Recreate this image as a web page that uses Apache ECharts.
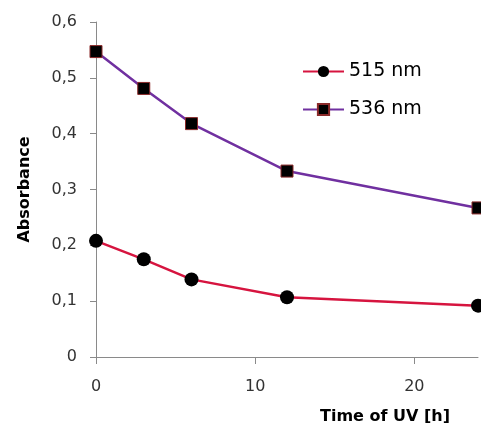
<!DOCTYPE html>
<html>
<head>
<meta charset="utf-8">
<script src="https://cdn.jsdelivr.net/npm/echarts@6/dist/echarts.min.js"></script>
<style>html,body{margin:0;padding:0;background:#fff}#c{width:481px;height:426px}</style>
</head>
<body>
<div id="c"></div>
<script>
const timeHours = [0, 3, 6, 12, 24];
const abs515 = [0.208, 0.175, 0.139, 0.107, 0.092];
const abs536 = [0.547, 0.481, 0.418, 0.333, 0.267];
const seriesNames = ['515 nm', '536 nm'];
const xTickValues = [0, 10, 20];
const yAxisTitle = 'Absorbance';
const xAxisTitle = 'Time of UV [h]';

const FONT = 'DejaVu Sans';
const chart = echarts.init(document.getElementById('c'), null, {renderer: 'canvas'});
chart.setOption({
  backgroundColor: '#ffffff',
  animation: false,
  textStyle: {fontFamily: FONT},
  title: {
    text: xAxisTitle, right: 31, top: 409, padding: 0,
    textStyle: {fontFamily: FONT, fontSize: 16, fontWeight: 'bold', color: '#000'}
  },
  grid: {left: 96, right: 3, top: 22, bottom: 69, containLabel: false, outerBoundsMode: 'none'},
  legend: {
    orient: 'vertical', left: 302, top: 62, padding: 0,
    itemWidth: 41, itemHeight: 14, itemGap: 19,
    textStyle: {fontFamily: FONT, fontSize: 19, color: '#000'},
    data: seriesNames
  },
  xAxis: {
    type: 'value', min: 0, max: 24,
    axisLine: {onZero: false, lineStyle: {color: '#8a8a8a', width: 1}},
    axisTick: {show: true, length: 7, customValues: xTickValues, lineStyle: {color: '#8a8a8a'}},
    axisLabel: {customValues: xTickValues, margin: 22, fontFamily: FONT, fontSize: 16, color: '#333'},
    splitLine: {show: false}
  },
  yAxis: {
    type: 'value', min: 0, max: 0.6, interval: 0.1,
    name: yAxisTitle, nameLocation: 'middle', nameGap: 63, nameRotate: 90,
    nameTextStyle: {fontFamily: FONT, fontSize: 16, fontWeight: 'bold', color: '#000'},
    axisLine: {show: true, lineStyle: {color: '#8a8a8a', width: 1}},
    axisTick: {show: true, length: 6, lineStyle: {color: '#8a8a8a'}},
    axisLabel: {
      margin: 19, fontFamily: FONT, fontSize: 16, color: '#333',
      formatter: v => (Math.abs(v) < 1e-9 ? '0' : v.toFixed(1).replace('.', ','))
    },
    splitLine: {show: false}
  },
  series: [
    {
      name: seriesNames[0], type: 'line',
      data: timeHours.map((t, i) => [t, abs515[i]]),
      symbol: 'circle', symbolSize: 14,
      lineStyle: {color: '#d6143f', width: 2.5},
      itemStyle: {color: '#000', borderColor: '#000', borderWidth: 0},
      z: 3
    },
    {
      name: seriesNames[1], type: 'line',
      data: timeHours.map((t, i) => [t, abs536[i]]),
      symbol: 'rect', symbolSize: 12,
      lineStyle: {color: '#7030a0', width: 2.5},
      itemStyle: {color: '#000', borderColor: '#8b2a2a', borderWidth: 1},
      z: 3
    }
  ]
});
</script>
</body>
</html>
